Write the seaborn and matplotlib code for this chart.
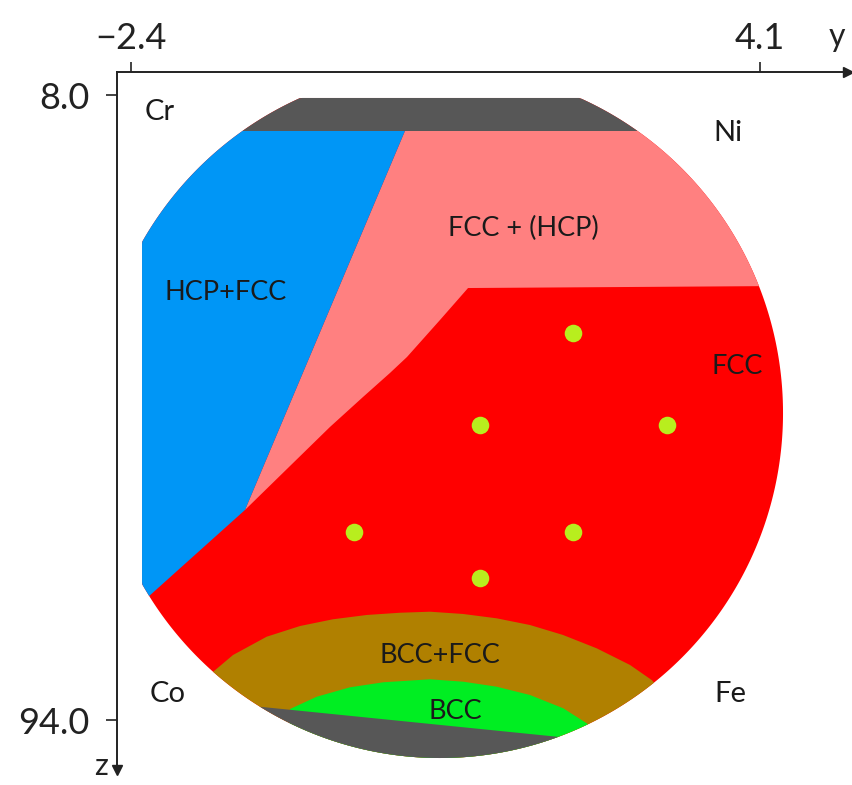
import numpy as np
import matplotlib
matplotlib.use("Agg")
import matplotlib.pyplot as plt
from matplotlib.patches import Polygon
import seaborn as sns

# ---------------- data ----------------
# axis ticks
y_ticks = [-2.4, 4.1]
y_tick_labels = ["\u22122.4", "4.1"]
z_ticks = [8.0, 94.0]
z_tick_labels = ["8.0", "94.0"]

# wafer outline (data units: y horizontal, z vertical)
wafer_center = (0.793, 51.76)
wafer_radii = (3.545, 47.47)
wafer_flat_top_z = 8.41
wafer_flat_left_y = -2.286

# phase regions (vertex lists in y, z); clipped to the wafer
dark_top_y = [-2.8, 5.0, 5.0, -2.8]
dark_top_z = [4.0, 4.0, 12.95, 12.95]

hcp_fcc_y = [-2.8, 0.431, -1.222, -2.8]
hcp_fcc_z = [12.95, 12.95, 65.10, 83.96]

fcc_hcp_y = [0.431, 4.6, 4.6, 1.083, 0.793, 0.452, 0.276, -0.003, -0.344, -1.222]
fcc_hcp_z = [12.95, 12.95, 34.26, 34.56, 38.96, 44.05, 46.25, 49.56, 53.68, 65.10]

bcc_fcc_y = [-1.739, -1.550, -1.346, -0.998, -0.654, -0.313, 0.036, 0.380, 0.690,
             1.031, 1.379, 1.723, 2.064, 2.413, 2.757, 2.981, 3.170, 3.170, -1.739]
bcc_fcc_z = [89.87, 87.35, 85.06, 82.54, 81.07, 80.14, 79.55, 79.24, 79.10,
             79.41, 80.01, 80.93, 82.30, 84.14, 86.43, 88.50, 91.25, 102.0, 102.0]

bcc_y = [-0.757, -0.481, -0.137, 0.207, 0.690, 1.034, 1.379, 1.723, 2.067, 2.309,
         2.447, 2.447, -0.80]
bcc_z = [92.49, 90.80, 89.50, 88.81, 88.40, 88.73, 89.42, 90.56, 92.39, 94.45,
         96.06, 102.0, 102.0]

dark_bottom_y = [-1.377, 2.447, 2.447, -1.377]
dark_bottom_z = [91.76, 96.90, 102.0, 102.0]

# measured points
dot_y = [2.17, 1.21, 3.14, -0.10, 2.17, 1.21]
dot_z = [40.8, 53.4, 53.4, 68.1, 68.1, 74.5]

# labels
corner_names = ["Cr", "Ni", "Co", "Fe"]
corner_y = [-2.10, 3.77, -2.02, 3.79]
corner_z = [10.3, 13.2, 90.4, 90.4]

phase_names = ["FCC + (HCP)", "HCP+FCC", "FCC", "BCC+FCC", "BCC"]
phase_y = [1.65, -1.42, 3.86, 0.79, 0.95]
phase_z = [26.4, 35.2, 45.4, 85.1, 92.8]

# colours
c_dark = "#575757"
c_blue = "#0096F6"
c_pink = "#FF8080"
c_red = "#FF0000"
c_brown = "#B08000"
c_green = "#00EE22"
c_dot = "#B8EE1E"

# ---------------- plot ----------------
sns.set_theme(style="white")
plt.rcParams["font.family"] = ["Lato", "DejaVu Sans"]

W, H = 852, 785
fig = plt.figure(figsize=(W / 100, H / 100), dpi=100)
ax = fig.add_axes([117 / W, 1 - 770 / H, 731 / W, 698 / H])
ax.set_xlim(-2.5447, 5.0095)
ax.set_ylim(100.88, 4.835)

# wafer outline: ellipse cut by two flats
t = np.linspace(0, 2 * np.pi, 720)
wy = wafer_center[0] + wafer_radii[0] * np.cos(t)
wz = wafer_center[1] + wafer_radii[1] * np.sin(t)
wy = np.maximum(wy, wafer_flat_left_y)
wz = np.maximum(wz, wafer_flat_top_z)
wafer = Polygon(np.column_stack([wy, wz]), closed=True, facecolor=c_red,
                edgecolor="none", zorder=1)
ax.add_patch(wafer)


def region(ys, zs, color, z=2):
    p = Polygon(np.column_stack([ys, zs]), closed=True, facecolor=color,
                edgecolor="none", zorder=z)
    ax.add_patch(p)
    p.set_clip_path(wafer)


region(fcc_hcp_y, fcc_hcp_z, c_pink)
region(hcp_fcc_y, hcp_fcc_z, c_blue)
region(dark_top_y, dark_top_z, c_dark)
region(bcc_fcc_y, bcc_fcc_z, c_brown, 3)
region(bcc_y, bcc_z, c_green, 4)
region(dark_bottom_y, dark_bottom_z, c_dark, 5)

sns.scatterplot(x=dot_y, y=dot_z, s=160, color=c_dot, linewidth=0, ax=ax,
                zorder=6)

for name, yy, zz in zip(corner_names, corner_y, corner_z):
    ax.text(yy, zz, name, ha="center", va="center", fontsize=21,
            color="#1a1a1a", zorder=7)
for name, yy, zz in zip(phase_names, phase_y, phase_z):
    ax.text(yy, zz, name, ha="center", va="center", fontsize=19.5,
            color="#1a1a1a", zorder=7)

# axes styling
ax.set_xlim(-2.5447, 5.0095)
ax.set_ylim(100.88, 4.835)
ax.set_xlabel("")
ax.set_ylabel("")
ax.xaxis.tick_top()
ax.set_xticks(y_ticks)
ax.set_xticklabels(y_tick_labels)
ax.set_yticks(z_ticks)
ax.set_yticklabels(z_tick_labels)
for s in ["right", "bottom"]:
    ax.spines[s].set_visible(False)
for s in ["left", "top"]:
    ax.spines[s].set_color("#222222")
    ax.spines[s].set_linewidth(1.4)
ax.tick_params(axis="x", which="both", direction="out", length=7, width=1.2,
               colors="#222222", labelsize=26, pad=5, top=True, bottom=False)
ax.tick_params(axis="y", which="both", direction="out", length=8, width=1.2,
               colors="#222222", labelsize=26, pad=12, left=True)
ax.grid(False)
ax.set_facecolor("none")

# axis arrows and names
ax.plot([1], [1], marker=">", markersize=7, color="#222222",
        transform=ax.transAxes, clip_on=False)
ax.plot([0], [0], marker="v", markersize=7, color="#222222",
        transform=ax.transAxes, clip_on=False)
ax.text(0.974, 1.05, "y", transform=ax.transAxes, ha="left", va="center",
        fontsize=23, color="#222222")
ax.text(-0.012, 0.006, "z", transform=ax.transAxes, ha="right", va="center",
        fontsize=22, color="#222222")

fig.savefig("out.png", dpi=100)
